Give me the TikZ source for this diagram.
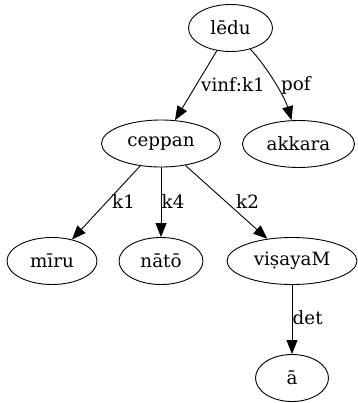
\documentclass[tikz,border=0pt]{standalone}
\usepackage{fontspec}
\setmainfont{DejaVu Serif}
\usetikzlibrary{shapes.geometric,arrows.meta}
\begin{document}
\begin{tikzpicture}[x=1pt,y=-1pt,
  every node/.style={font=\fontsize{18.3}{21}\selectfont},
  tok/.style={draw,ellipse,inner sep=0pt,minimum height=47pt,line width=0.9pt},
  edge/.style={draw,line width=0.9pt,-{Triangle[length=14pt,width=11pt]}},
  lbl/.style={inner sep=0pt}]
  \useasboundingbox (0,0) rectangle (357,403);
  % words
  \node[tok,minimum width=84pt]  (ledu)   at (230.5,28)  {lēdu};
  \node[tok,minimum width=119pt] (ceppan) at (161,143.5) {ceppan};
  \node[tok,minimum width=112pt] (akkara) at (298.5,144) {akkara};
  \node[tok,minimum width=90pt]  (miru)   at (52,261)    {mīru};
  \node[tok,minimum width=84pt]  (nato)   at (161,261)   {nātō};
  \node[tok,minimum width=130pt] (visaya) at (292,261)   {viṣayaM};
  \node[tok,minimum width=73pt]  (aa)     at (292,378)   {ā};
  % dependency arcs
  \draw[edge] (ledu) -- (ceppan);
  \draw[edge] (ledu) .. controls (268,68) and (285,98) .. (akkara);
  \draw[edge] (ceppan) -- (miru);
  \draw[edge] (ceppan) -- (nato);
  \draw[edge] (ceppan) -- (visaya);
  \draw[edge] (visaya) -- (aa);
  % relation labels
  \node[lbl,anchor=west] (l1) at (201,85)  {vinf:k1};
  \node[lbl,anchor=west] (l2) at (281,85)  {pof};
  \node[lbl,anchor=west] (l3) at (112,202) {k1};
  \node[lbl,anchor=west] (l4) at (161.5,202) {k4};
  \node[lbl,anchor=west] (l5) at (236,202) {k2};
  \node[lbl,anchor=west] (l6) at (292.5,318) {det};
\end{tikzpicture}
\end{document}
